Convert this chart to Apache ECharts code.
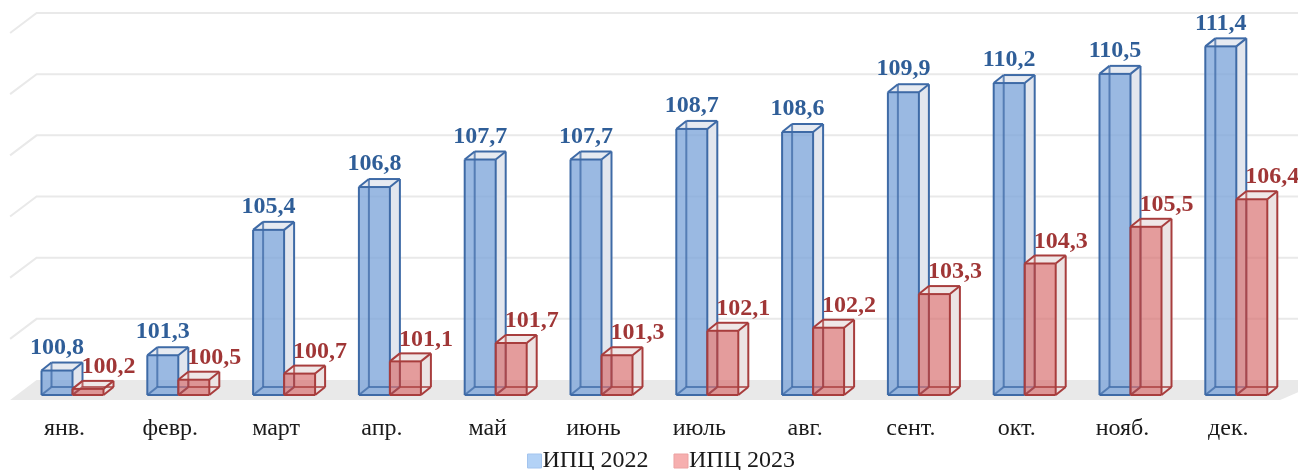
<!DOCTYPE html>
<html>
<head>
<meta charset="utf-8">
<script src="https://cdn.jsdelivr.net/npm/echarts@6/dist/echarts.min.js"></script>
<style>html,body{margin:0;padding:0;background:#fff}#c{width:1298px;height:470px}</style>
</head>
<body>
<div id="c"></div>
<script>
const months = ['янв.','февр.','март','апр.','май','июнь','июль','авг.','сент.','окт.','нояб.','дек.'];
const ipc2022 = [100.8,101.3,105.4,106.8,107.7,107.7,108.7,108.6,109.9,110.2,110.5,111.4];
const ipc2023 = [100.2,100.5,100.7,101.1,101.7,101.3,102.1,102.2,103.3,104.3,105.5,106.4];
const yTicks = [100,102,104,106,108,110,112];
const seriesNames = ['ИПЦ 2022','ИПЦ 2023'];

const fmt = v => v.toFixed(1).replace('.', ',');
const FONT = 'Liberation Serif';

const BW = 31, DX = 10, DY = -8, PAIR_SHIFT = 8;
const styles = [
  {stroke:'#3e6aa6', front:'rgba(125,165,218,0.78)', side:'#e2e6ee', top:'#e6eaf1', label:'#2f5e98'},
  {stroke:'#a83d3d', front:'rgba(214,105,105,0.66)', side:'#ece3e3', top:'#efe7e7', label:'#a03636'}
];

function boxRender(si){
  return function(params, api){
    const i = api.value(0), v = api.value(1);
    const t = api.coord([i, v]), b = api.coord([i, 100]);
    const pc = t[0] + PAIR_SHIFT;
    const x0 = si === 0 ? pc - BW : pc, x1 = x0 + BW;
    const yt = t[1], yb = b[1];
    const s = styles[si];
    const ln = (a,b2,c,d,op) => ({type:'line', shape:{x1:a,y1:b2,x2:c,y2:d}, style:{stroke:s.stroke, lineWidth:2, opacity:op||1}});
    const children = [
      {type:'polygon', shape:{points:[[x1,yt],[x1+DX,yt+DY],[x1+DX,yb+DY],[x1,yb]]}, style:{fill:s.side}},
      {type:'polygon', shape:{points:[[x0,yt],[x0+DX,yt+DY],[x1+DX,yt+DY],[x1,yt]]}, style:{fill:s.top}},
      {type:'rect', shape:{x:x0,y:yt,width:BW,height:yb-yt}, style:{fill:s.front}},
      ln(x0+DX,yt+DY,x0+DX,yb+DY,0.75),
      ln(x0+DX,yb+DY,x1+DX,yb+DY,0.75),
      ln(x0,yb,x0+DX,yb+DY,0.75),
      ln(x0,yt,x1,yt), ln(x0,yb,x1,yb), ln(x0,yt,x0,yb), ln(x1,yt,x1,yb),
      ln(x0,yt,x0+DX,yt+DY), ln(x1,yt,x1+DX,yt+DY), ln(x0+DX,yt+DY,x1+DX,yt+DY),
      ln(x1+DX,yt+DY,x1+DX,yb+DY), ln(x1,yb,x1+DX,yb+DY),
      {type:'text', style:{
        text: fmt(v),
        x: si === 0 ? x0 + BW/2 : x0 + 36,
        y: si === 0 ? yt - 11 : yt - 10,
        align:'center', verticalAlign:'bottom',
        fontFamily: FONT, fontWeight:'bold', fontSize:24, fill: s.label
      }}
    ];
    return {type:'group', children};
  };
}

function wallRender(params, api){
  const v = api.value(0);
  const cs = params.coordSys;
  const gl = cs.x, gr = cs.x + cs.width;
  const y = api.coord([0, v])[1];
  const WDX = 25, WDY = -15;
  if (v === 100) {
    return {type:'polygon', shape:{points:[[gl-1.5,y+5],[gl+WDX,y+WDY],[gr+WDX+20,y+WDY],[gr-1,y+5]]},
      style:{fill:'#e9e9e9'}};
  }
  return {type:'polyline', shape:{points:[[gl-1.5,y+WDY+20],[gl+WDX,y+WDY],[gr+WDX+20,y+WDY]]},
    style:{stroke:'#e9e9e9', lineWidth:2, fill:null}};
}

const chart = echarts.init(document.getElementById('c'), null, {renderer:'canvas'});
chart.setOption({
  animation:false,
  backgroundColor:'#fff',
  grid:{left:11.6, right:16.8, top:28, bottom:75},
  xAxis:{type:'category', data:months, boundaryGap:true,
    axisLine:{show:false}, axisTick:{show:false}, splitLine:{show:false},
    axisLabel:{margin:22, fontFamily:FONT, fontSize:24, color:'#1a1a1a'}},
  yAxis:{type:'value', min:100, max:112, interval:2, show:false, splitLine:{show:false}},
  legend:{top:444, left:522, itemWidth:14, itemHeight:14, itemGap:25,
    textStyle:{fontFamily:FONT, fontSize:24, color:'#1a1a1a', padding:[0,0,0,-4]},
    data:[
      {name:seriesNames[0], icon:'rect', itemStyle:{color:'#b3d2f6', borderColor:'#a3c4ee', borderWidth:1}},
      {name:seriesNames[1], icon:'rect', itemStyle:{color:'#f6afaf', borderColor:'#eca2a2', borderWidth:1}}
    ]},
  series:[
    {type:'custom', name:'walls', silent:true, z:1, renderItem:wallRender,
      data:yTicks.map(v=>[v]), encode:{y:0}},
    {type:'custom', name:seriesNames[0], z:2, renderItem:boxRender(0),
      itemStyle:{color:'#b3d2f6'},
      data:ipc2022.map((v,i)=>[i,v]), encode:{x:0,y:1}},
    {type:'custom', name:seriesNames[1], z:3, renderItem:boxRender(1),
      itemStyle:{color:'#f6afaf'},
      data:ipc2023.map((v,i)=>[i,v]), encode:{x:0,y:1}}
  ]
});
</script>
</body>
</html>
